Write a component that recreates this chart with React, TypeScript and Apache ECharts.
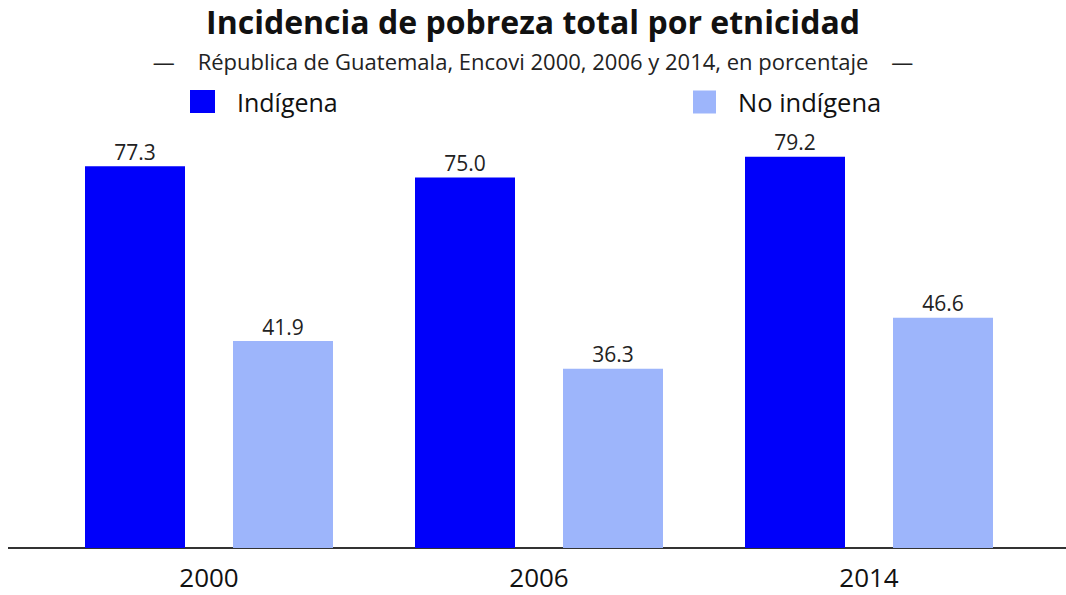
import React, { useEffect, useRef } from "react";
import * as echarts from "echarts";

const categories = ["2000", "2006", "2014"];
const indigena = [77.3, 75.0, 79.2];
const noIndigena = [41.9, 36.3, 46.6];

const FONT = "'Open Sans', 'Noto Sans', sans-serif";

export default function App() {
  const ref = useRef<HTMLDivElement>(null);
  useEffect(() => {
    document.body.style.margin = "0";
    const chart = echarts.init(ref.current!, null, { renderer: "svg" });
    const label = {
      show: true,
      position: "top",
      distance: 4,
      formatter: (p: any) => p.value.toFixed(1),
      fontFamily: FONT,
      fontSize: 21,
      color: "#222",
    };
    chart.setOption({
      animation: false,
      backgroundColor: "#ffffff",
      title: [
        {
          text: "Incidencia de pobreza total por etnicidad",
          left: "center",
          top: 0,
          textStyle: { fontFamily: FONT, fontSize: 32, fontWeight: "bold", color: "#111" },
        },
        {
          text: "—    Républica de Guatemala, Encovi 2000, 2006 y 2014, en porcentaje    —",
          left: "center",
          top: 45,
          textStyle: { fontFamily: FONT, fontSize: 22, fontWeight: "normal", color: "#222" },
        },
      ],
      legend: [
        {
          data: ["Indígena"],
          left: 190,
          top: 89,
          padding: 0,
          icon: "rect",
          itemWidth: 25,
          itemHeight: 23,
          textStyle: { fontFamily: FONT, fontSize: 25, color: "#111", padding: [0, 0, 0, 17] },
        },
        {
          data: ["No indígena"],
          left: 693,
          top: 89,
          padding: 0,
          icon: "rect",
          itemWidth: 23,
          itemHeight: 23,
          textStyle: { fontFamily: FONT, fontSize: 25.5, color: "#111", padding: [0, 0, 0, 17] },
        },
      ],
      grid: { left: 44, right: 32, top: 54, bottom: 47 },
      xAxis: {
        type: "category",
        data: categories,
        axisLine: { show: false },
        axisTick: { show: false },
        axisLabel: { fontFamily: FONT, fontSize: 26, color: "#111", margin: 16 },
      },
      yAxis: { type: "value", min: 0, max: 100, show: false, splitLine: { show: false } },
      series: [
        {
          name: "Indígena",
          type: "bar",
          data: indigena,
          barWidth: 100,
          barGap: "48%",
          itemStyle: { color: "#0000fa" },
          label,
        },
        {
          name: "No indígena",
          type: "bar",
          data: noIndigena,
          barWidth: 100,
          barGap: "48%",
          itemStyle: { color: "#9db5fb" },
          label,
        },
      ],
      graphic: [
        {
          type: "line",
          shape: { x1: 8, y1: 548, x2: 1066, y2: 548 },
          style: { stroke: "#333", lineWidth: 2 },
        },
      ],
    });
    return () => chart.dispose();
  }, []);
  return <div ref={ref} style={{ width: 1066, height: 595 }} />;
}
